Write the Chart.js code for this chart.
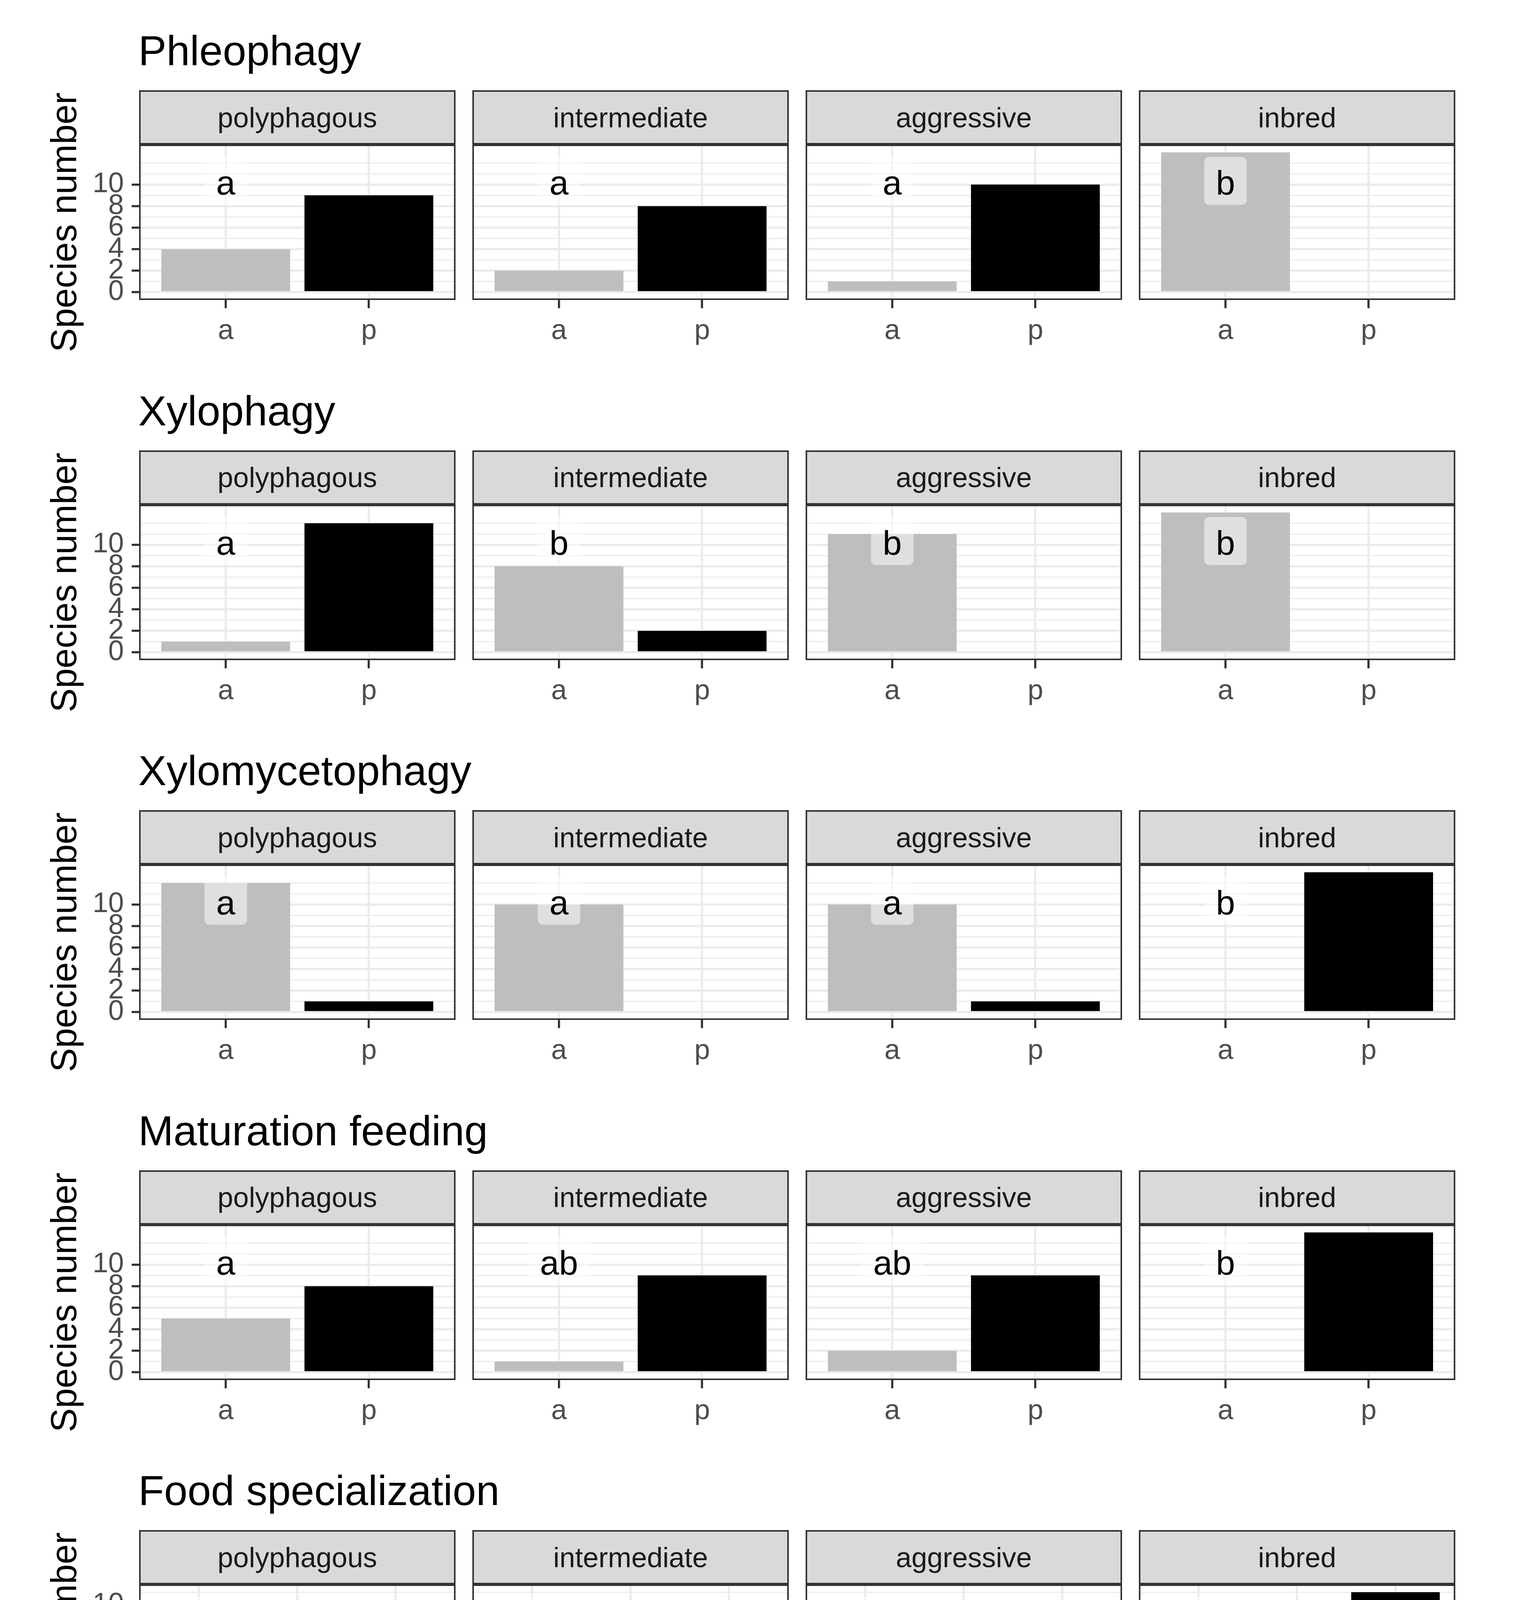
<!DOCTYPE html>
<html>
<head>
<meta charset="utf-8">
<script src="https://cdn.jsdelivr.net/npm/chart.js@4.4.0/dist/chart.umd.min.js"></script>
<style>
  body { margin: 0; background: #fff; width: 3888px; height: 4640px; position: relative; overflow: hidden;
         font-family: "Liberation Sans", Arial, sans-serif; }
  .title { position: absolute; font-size: 108px; line-height: 108px; color: #000; white-space: nowrap; }
  .strip { position: absolute; box-sizing: border-box; background: #D9D9D9; border: 4px solid #333333;
           display: flex; align-items: center; justify-content: center; font-size: 72px; color: #1A1A1A; }
  .ylab { position: absolute; font-size: 92px; line-height: 92px; color: #000; white-space: nowrap;
          transform: translate(-50%, -50%) rotate(-90deg); }
  canvas { position: absolute; }
</style>
</head>
<body>
<script>
// --- datos ---
const rowTitles = ['Phleophagy', 'Xylophagy', 'Xylomycetophagy', 'Maturation feeding', 'Food specialization'];
const groups = ['polyphagous', 'intermediate', 'aggressive', 'inbred'];
const catsAP = ['a', 'p'];
const catsMOP = ['m', 'o', 'p'];
const rowCats = [catsAP, catsAP, catsAP, catsAP, catsMOP];

// valores por grupo (polyphagous, intermediate, aggressive, inbred)
const phleophagy      = [[4, 9], [2, 8], [1, 10], [13, 0]];
const xylophagy       = [[1, 12], [8, 2], [11, 0], [13, 0]];
const xylomycetophagy = [[12, 1], [10, 0], [10, 1], [0, 13]];
const maturation      = [[5, 8], [1, 9], [2, 9], [0, 13]];
const foodSpec        = [[1, 3, 9], [6, 3, 1], [8, 3, 0], [0, 2, 11]];
const rowValues = [phleophagy, xylophagy, xylomycetophagy, maturation, foodSpec];

// letras de significancia
const lettersPhleo  = ['a', 'a', 'a', 'b'];
const lettersXylo   = ['a', 'b', 'b', 'b'];
const lettersXylom  = ['a', 'a', 'a', 'b'];
const lettersMatur  = ['a', 'ab', 'ab', 'b'];
const lettersFood   = ['a', 'b', 'b', 'a'];
const rowLetters = [lettersPhleo, lettersXylo, lettersXylom, lettersMatur, lettersFood];
const letterY = [10, 10, 10, 10, 8.5];

// ejes
const rowMax = [13, 13, 13, 13, 11];
const gridTop = [12, 12, 12, 12, 11];
const yTickLabels = [0, 2, 4, 6, 8, 10];
const catColours = { a: '#BEBEBE', p: '#000000', m: '#E5E5E5', o: '#7F7F7F' };

// --- geometria ---
const panelLeft = [358, 1211, 2064, 2917];
const panelW = 806, panelH = 394;
const rowPitch = 921.5;
const axisW = 340, xAxisH = 140, pad = 4;
const FONT = '"Liberation Sans", Arial, sans-serif';

const frameAndLabel = {
  id: 'frameAndLabel',
  afterDatasetsDraw(chart, args, opts) {
    if (!opts.text) return;
    const { ctx, scales: { x, y } } = chart;
    const px = x.getPixelForValue(1);
    const py = y.getPixelForValue(opts.y);
    ctx.save();
    ctx.font = '88px ' + FONT;
    const w = ctx.measureText(opts.text).width + 60;
    ctx.fillStyle = 'rgba(255,255,255,0.5)';
    ctx.beginPath();
    ctx.roundRect(px - w / 2, py - 71, w, 123, 13);
    ctx.fill();
    ctx.fillStyle = '#000';
    ctx.textAlign = 'center';
    ctx.textBaseline = 'alphabetic';
    ctx.fillText(opts.text, px, py + 25);
    ctx.restore();
  },
  afterDraw(chart) {
    const { ctx, chartArea: a } = chart;
    ctx.save();
    ctx.strokeStyle = '#333333';
    ctx.lineWidth = 4;
    ctx.strokeRect(a.left, a.top, a.right - a.left, a.bottom - a.top);
    ctx.restore();
  }
};

function addDiv(cls, text, css) {
  const d = document.createElement('div');
  d.className = cls;
  d.textContent = text;
  Object.assign(d.style, css);
  document.body.appendChild(d);
  return d;
}

function isMajor(v) { return yTickLabels.includes(v); }

function makePanel(r, g) {
  const off = r * rowPitch;
  const cats = rowCats[r];
  const vals = rowValues[r][g];
  const first = g === 0;
  const leftW = first ? axisW : pad;

  const canvas = document.createElement('canvas');
  canvas.width = leftW + panelW + pad;
  canvas.height = pad + panelH + xAxisH;
  canvas.style.left = (panelLeft[g] - leftW) + 'px';
  canvas.style.top = (372 + off - pad) + 'px';
  document.body.appendChild(canvas);

  const lo = -0.05 * rowMax[r], hi = rowMax[r] * 1.05;
  const gridVals = [];
  for (let v = 0; v <= gridTop[r]; v++) gridVals.push(v);

  new Chart(canvas, {
    type: 'bar',
    data: {
      datasets: [{
        data: cats.map((c, i) => ({ x: i + 1, y: vals[i] })),
        backgroundColor: cats.map(c => catColours[c]),
        borderWidth: 0,
        barPercentage: 0.9,
        categoryPercentage: 1.0
      }]
    },
    options: {
      responsive: false,
      animation: false,
      devicePixelRatio: 1,
      layout: { padding: { top: pad, right: pad, left: 0, bottom: 0 } },
      plugins: {
        legend: { display: false },
        tooltip: { enabled: false },
        frameAndLabel: { text: rowLetters[r][g], y: letterY[r] }
      },
      scales: {
        x: {
          type: 'linear',
          min: 0.4,
          max: cats.length + 0.6,
          offset: false,
          bounds: 'data',
          border: { display: false },
          grid: { color: '#EBEBEB', lineWidth: 5.5, offset: false,
                  tickColor: '#333333', tickWidth: 5.5, tickLength: 23 },
          ticks: { autoSkip: false, maxRotation: 0, padding: 16, color: '#4D4D4D',
                   font: { size: 72, family: FONT },
                   callback: (v, i) => cats[i] },
          afterBuildTicks: s => { s.ticks = cats.map((c, i) => ({ value: i + 1 })); },
          afterFit: s => { s.height = xAxisH; s.paddingLeft = 0; s.paddingRight = 0; }
        },
        y: {
          type: 'linear',
          min: lo,
          max: hi,
          bounds: 'data',
          border: { display: false },
          grid: {
            color: '#EBEBEB',
            lineWidth: c => isMajor(c.tick.value) ? 5.5 : 2.8,
            drawTicks: first,
            tickLength: 21,
            tickWidth: 5.5,
            tickColor: c => isMajor(c.tick.value) ? '#333333' : 'rgba(0,0,0,0)'
          },
          ticks: { display: first, autoSkip: false, padding: 20, color: '#4D4D4D',
                   font: { size: 72, family: FONT },
                   callback: v => isMajor(v) ? String(v) : '' },
          afterBuildTicks: s => { s.ticks = gridVals.map(v => ({ value: v })); },
          afterFit: s => { s.width = leftW; s.paddingTop = 0; s.paddingBottom = 0; }
        }
      }
    },
    plugins: [frameAndLabel]
  });
}

rowTitles.forEach((t, r) => {
  const off = r * rowPitch;
  addDiv('title', t, { left: '354px', top: (76 + off) + 'px' });
  addDiv('ylab', 'Species number', { left: '163px', top: (569 + off) + 'px' });
  groups.forEach((grp, g) => {
    addDiv('strip', grp, { left: (panelLeft[g] - 2) + 'px', top: (231 + off) + 'px',
                           width: (panelW + 4) + 'px', height: '139px' });
    makePanel(r, g);
  });
});
</script>
</body>
</html>
